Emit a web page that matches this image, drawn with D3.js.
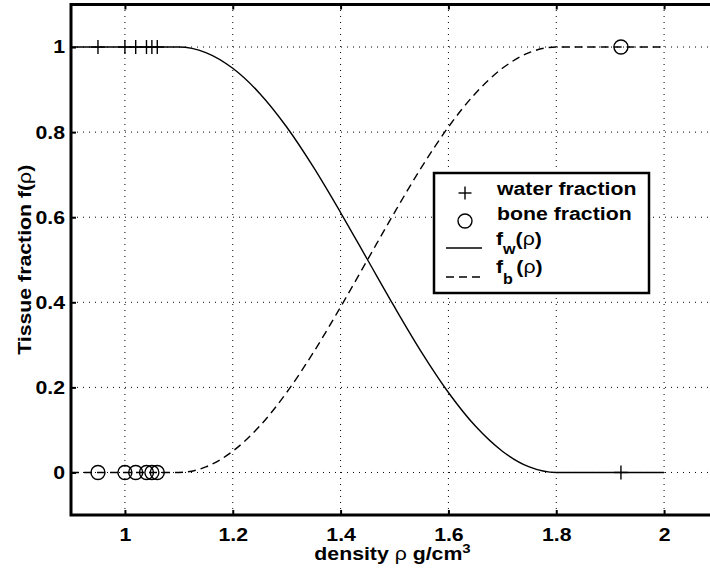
<!DOCTYPE html>
<html>
<head>
<meta charset="utf-8">
<script src="https://cdn.jsdelivr.net/npm/d3@7"></script>
<style>
  body { margin: 0; background: #fff; }
  text { font-family: "Liberation Sans", Arial, Helvetica, sans-serif; font-weight: bold; fill: #000; }
</style>
</head>
<body>
<svg id="chart" width="710" height="577"></svg>
<script>
// Density grid (g/cm^3) on which the tissue fraction curves are tabulated
const densityGrid = [0.9, 0.95, 1.0, 1.05, 1.1, 1.15, 1.2, 1.25, 1.3, 1.35, 1.4, 1.45,
                     1.5, 1.55, 1.6, 1.65, 1.7, 1.75, 1.8, 1.85, 1.9, 1.95, 2.0];
// Water fraction f_w(rho)
const waterCurve = [1, 1, 1, 1, 1, 0.987, 0.950, 0.891, 0.812, 0.717, 0.611, 0.5,
                    0.389, 0.283, 0.188, 0.109, 0.050, 0.013, 0, 0, 0, 0, 0];
// Bone fraction f_b(rho)
const boneCurve = [0, 0, 0, 0, 0, 0.013, 0.050, 0.109, 0.188, 0.283, 0.389, 0.5,
                   0.611, 0.717, 0.812, 0.891, 0.950, 0.987, 1, 1, 1, 1, 1];

// Measured samples
const sampleDensity = [0.95, 1.0, 1.02, 1.04, 1.05, 1.06, 1.92];
const sampleWater   = [1, 1, 1, 1, 1, 1, 0];
const sampleBone    = [0, 0, 0, 0, 0, 0, 1];

const xTicks = [1, 1.2, 1.4, 1.6, 1.8, 2];
const yTicks = [0, 0.2, 0.4, 0.6, 0.8, 1];

const svg = d3.select("#chart");
const FS = 18.5;   // label font size
const SX = 1.15;   // horizontal widening of the bold lettering

const x = d3.scaleLinear().domain([0.9, 2.1]).range([71, 718]);
const y = d3.scaleLinear().domain([-0.1, 1.1]).range([515, 4.5]);

// text placed at (px, py), widened along its baseline
function label(parent, px, py, anchor, rot) {
  return parent.append("text")
    .attr("transform", `translate(${px},${py})${rot ? ` rotate(${rot})` : ""} scale(${SX},1)`)
    .attr("text-anchor", anchor || "start")
    .attr("font-size", FS);
}

// grid
const grid = svg.append("g").attr("stroke", "#000").attr("stroke-width", 1)
  .attr("stroke-dasharray", "1,5");
grid.selectAll(".gx").data(xTicks).join("line")
  .attr("x1", d => x(d)).attr("x2", d => x(d))
  .attr("y1", y.range()[0]).attr("y2", y.range()[1]);
grid.selectAll(".gy").data(yTicks).join("line")
  .attr("y1", d => y(d)).attr("y2", d => y(d))
  .attr("x1", x.range()[0]).attr("x2", x.range()[1]);

// curves
const line = d3.line().x(d => x(d[0])).y(d => y(d[1])).curve(d3.curveMonotoneX);
svg.append("path")
  .attr("d", line(densityGrid.map((r, i) => [r, waterCurve[i]])))
  .attr("fill", "none").attr("stroke", "#000").attr("stroke-width", 1.4);
svg.append("path")
  .attr("d", line(densityGrid.map((r, i) => [r, boneCurve[i]])))
  .attr("fill", "none").attr("stroke", "#000").attr("stroke-width", 1.4)
  .attr("stroke-dasharray", "8,5");

// sample markers
const plus = (g, cx, cy, h) => {
  g.append("line").attr("x1", cx - h).attr("x2", cx + h).attr("y1", cy).attr("y2", cy);
  g.append("line").attr("x1", cx).attr("x2", cx).attr("y1", cy - h).attr("y2", cy + h);
};
const mw = svg.append("g").attr("stroke", "#000").attr("stroke-width", 1.4);
sampleDensity.forEach((r, i) => plus(mw, x(r), y(sampleWater[i]), 7));
svg.append("g").selectAll("circle").data(sampleDensity).join("circle")
  .attr("cx", d => x(d)).attr("cy", (d, i) => y(sampleBone[i])).attr("r", 7)
  .attr("fill", "none").attr("stroke", "#000").attr("stroke-width", 1.4);

// axes
const fmt = d => String(d);
const axBottom = svg.append("g").attr("transform", `translate(0,${y.range()[0]})`)
  .call(d3.axisBottom(x).tickValues(xTicks).tickSizeInner(-5).tickSizeOuter(0)
    .tickPadding(13).tickFormat(fmt));
const axTop = svg.append("g").attr("transform", `translate(0,${y.range()[1]})`)
  .call(d3.axisTop(x).tickValues(xTicks).tickSizeInner(-5).tickSizeOuter(0).tickFormat(""));
const axLeft = svg.append("g").attr("transform", `translate(${x.range()[0]},0)`)
  .call(d3.axisLeft(y).tickValues(yTicks).tickSizeInner(-5).tickSizeOuter(0)
    .tickPadding(6).tickFormat(fmt));
[axBottom, axTop, axLeft].forEach(g => {
  g.attr("font-family", null).attr("font-size", null);
  g.select(".domain").remove();
  g.selectAll(".tick line").attr("stroke", "#000").attr("stroke-width", 2);
  g.selectAll(".tick text").attr("font-size", FS);
});
axBottom.selectAll(".tick text").attr("transform", `scale(${SX},1)`);
axLeft.selectAll(".tick text").attr("transform", `translate(-6,0) scale(${SX},1) translate(6,0)`);

// frame
svg.append("rect")
  .attr("x", x.range()[0]).attr("y", y.range()[1])
  .attr("width", x.range()[1] - x.range()[0]).attr("height", y.range()[0] - y.range()[1])
  .attr("fill", "none").attr("stroke", "#000").attr("stroke-width", 3);

// axis labels
const xl = label(svg, (x.range()[0] + x.range()[1]) / 2 - 2, 560, "middle");
xl.append("tspan").text("density ");
xl.append("tspan").attr("font-weight", "normal").text("ρ");
xl.append("tspan").text(" g/cm");
xl.append("tspan").attr("font-size", 13).attr("dy", -7).text("3");

const yl = label(svg, 31, (y.range()[0] + y.range()[1]) / 2, "middle", -90);
yl.append("tspan").text("Tissue fraction f(");
yl.append("tspan").attr("font-weight", "normal").text("ρ");
yl.append("tspan").text(")");

// legend
const lg = svg.append("g");
lg.append("rect").attr("x", 434).attr("y", 173).attr("width", 215).attr("height", 120)
  .attr("fill", "#fff").attr("stroke", "#000").attr("stroke-width", 2.5);
const lm = lg.append("g").attr("stroke", "#000").attr("stroke-width", 1.4);
plus(lm, 465, 193, 6.5);
lg.append("circle").attr("cx", 465).attr("cy", 221).attr("r", 7)
  .attr("fill", "none").attr("stroke", "#000").attr("stroke-width", 1.4);
lg.append("line").attr("x1", 446).attr("x2", 482).attr("y1", 248).attr("y2", 248)
  .attr("stroke", "#000").attr("stroke-width", 1.4);
lg.append("line").attr("x1", 446).attr("x2", 482).attr("y1", 277).attr("y2", 277)
  .attr("stroke", "#000").attr("stroke-width", 1.4).attr("stroke-dasharray", "8,5");

label(lg, 497, 195).text("water fraction");
label(lg, 497, 220).text("bone fraction");

// f_w(rho)
const fw = label(lg, 496, 245);
fw.append("tspan").text("f");
fw.append("tspan").attr("font-size", 14).attr("dy", 9).text("w");
fw.append("tspan").attr("dy", -9).text("(");
fw.append("tspan").attr("font-weight", "normal").text("ρ");
fw.append("tspan").text(")");

// f_b(rho)
const fb = label(lg, 496, 273);
fb.append("tspan").text("f");
fb.append("tspan").attr("font-size", 14).attr("dy", 11).text("b");
fb.append("tspan").attr("dx", 3).attr("dy", -11).text("(");
fb.append("tspan").attr("font-weight", "normal").text("ρ");
fb.append("tspan").text(")");
</script>
</body>
</html>
